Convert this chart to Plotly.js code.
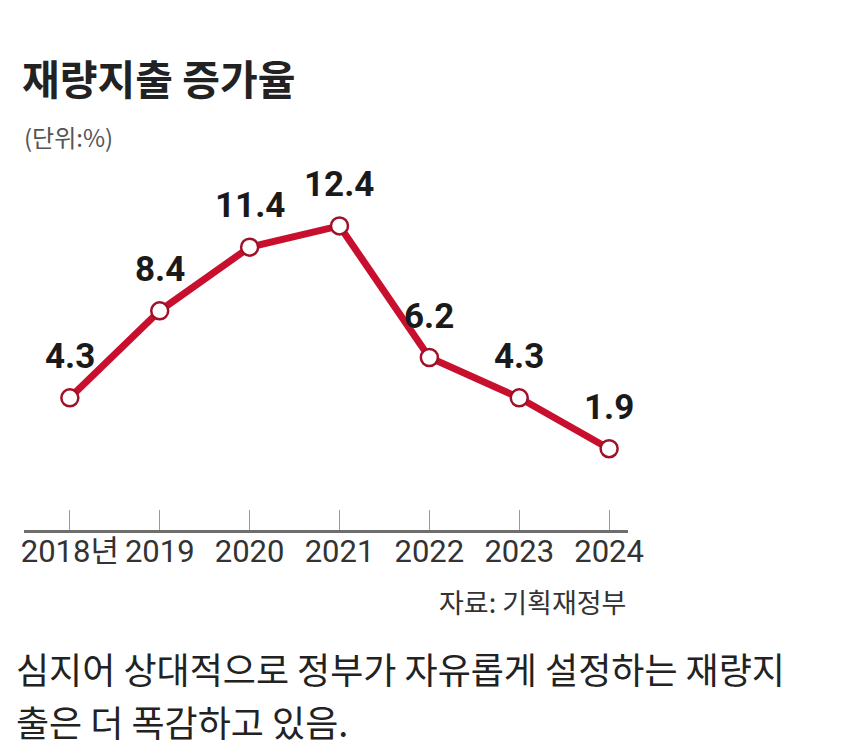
<!DOCTYPE html>
<html>
<head>
<meta charset="utf-8">
<script src="https://cdn.plot.ly/plotly-3.0.1.min.js"></script>
<style>
html,body{margin:0;padding:0;background:#fff;}
#chart{width:850px;height:753px;}
</style>
</head>
<body>
<div id="chart"></div>
<script>
const years = ["2018년", "2019", "2020", "2021", "2022", "2023", "2024"];
const growth = [4.3, 8.4, 11.4, 12.4, 6.2, 4.3, 1.9];
const labels = ["4.3", "8.4", "11.4", "12.4", "6.2", "4.3", "1.9"];
const titleText = "재량지출 증가율";
const unitText = "(단위:%)";
const sourceText = "자료: 기획재정부";
const captionLines = ["심지어 상대적으로 정부가 자유롭게 설정하는 재량지", "출은 더 폭감하고 있음."];

const narrow = "Roboto, 'Noto Sans CJK KR', sans-serif";
const kr = "'Noto Sans CJK KR', 'Noto Sans', sans-serif";
const red = "#c8102e";

const trace = {
  x: years.map((_, i) => i), y: growth, type: "scatter", mode: "lines+markers",
  line: {color: red, width: 7},
  marker: {symbol: "circle", size: 17, color: "#ffffff", line: {color: "#a01028", width: 2.5}},
  cliponaxis: false, hoverinfo: "skip"
};

const annotations = years.map((yr, i) => ({
  x: i, y: growth[i], xref: "x", yref: "y", text: labels[i], showarrow: false,
  yanchor: "bottom", yshift: 19,
  font: {family: narrow, size: 35, color: "#1a1a1a", weight: "bold"}
}));

annotations.push({
  xref: "paper", yref: "paper", x: (22 - 24) / 604, y: (530 - 136) / 338, text: unitText,
  showarrow: false, xanchor: "left", yanchor: "middle",
  font: {family: kr, size: 24, color: "#555"}
});
annotations.push({
  xref: "paper", yref: "paper", x: 1, y: (530 - 601) / 338, text: sourceText,
  showarrow: false, xanchor: "right", yanchor: "middle",
  font: {family: kr, size: 27, color: "#333"}
});
const captionCenters = [668, 721];
captionLines.forEach((line, i) => {
  annotations.push({
    xref: "paper", yref: "paper", x: (14 - 24) / 604, y: (530 - captionCenters[i]) / 338, text: line,
    showarrow: false, xanchor: "left", yanchor: "middle", align: "left",
    font: {family: kr, size: 36, color: "#222"}
  });
});

const layout = {
  width: 850, height: 753,
  margin: {l: 24, r: 222, t: 192, b: 223},
  paper_bgcolor: "#fff", plot_bgcolor: "#fff",
  showlegend: false,
  title: {
    text: titleText, xref: "container", yref: "container", x: 22/850, xanchor: "left",
    y: 1 - 81/753, yanchor: "middle",
    font: {family: kr, size: 41, color: "#222", weight: "bold"}
  },
  xaxis: {
    type: "linear", range: [-0.51, 6.21], fixedrange: true,
    tickmode: "array", tickvals: years.map((_, i) => i), ticktext: years, tickangle: 0,
    showgrid: false, zeroline: false,
    showline: true, linecolor: "#6e6e6e", linewidth: 3,
    ticks: "inside", ticklen: 20, tickwidth: 1.2, tickcolor: "#999",
    ticklabelstandoff: -8,
    tickfont: {family: narrow, size: 31, color: "#333"}
  },
  yaxis: {
    range: [-1.93, 14], visible: false, showgrid: false, zeroline: false, fixedrange: true
  },
  annotations: annotations
};

Plotly.newPlot("chart", [trace], layout, {displayModeBar: false, staticPlot: true});
</script>
</body>
</html>
